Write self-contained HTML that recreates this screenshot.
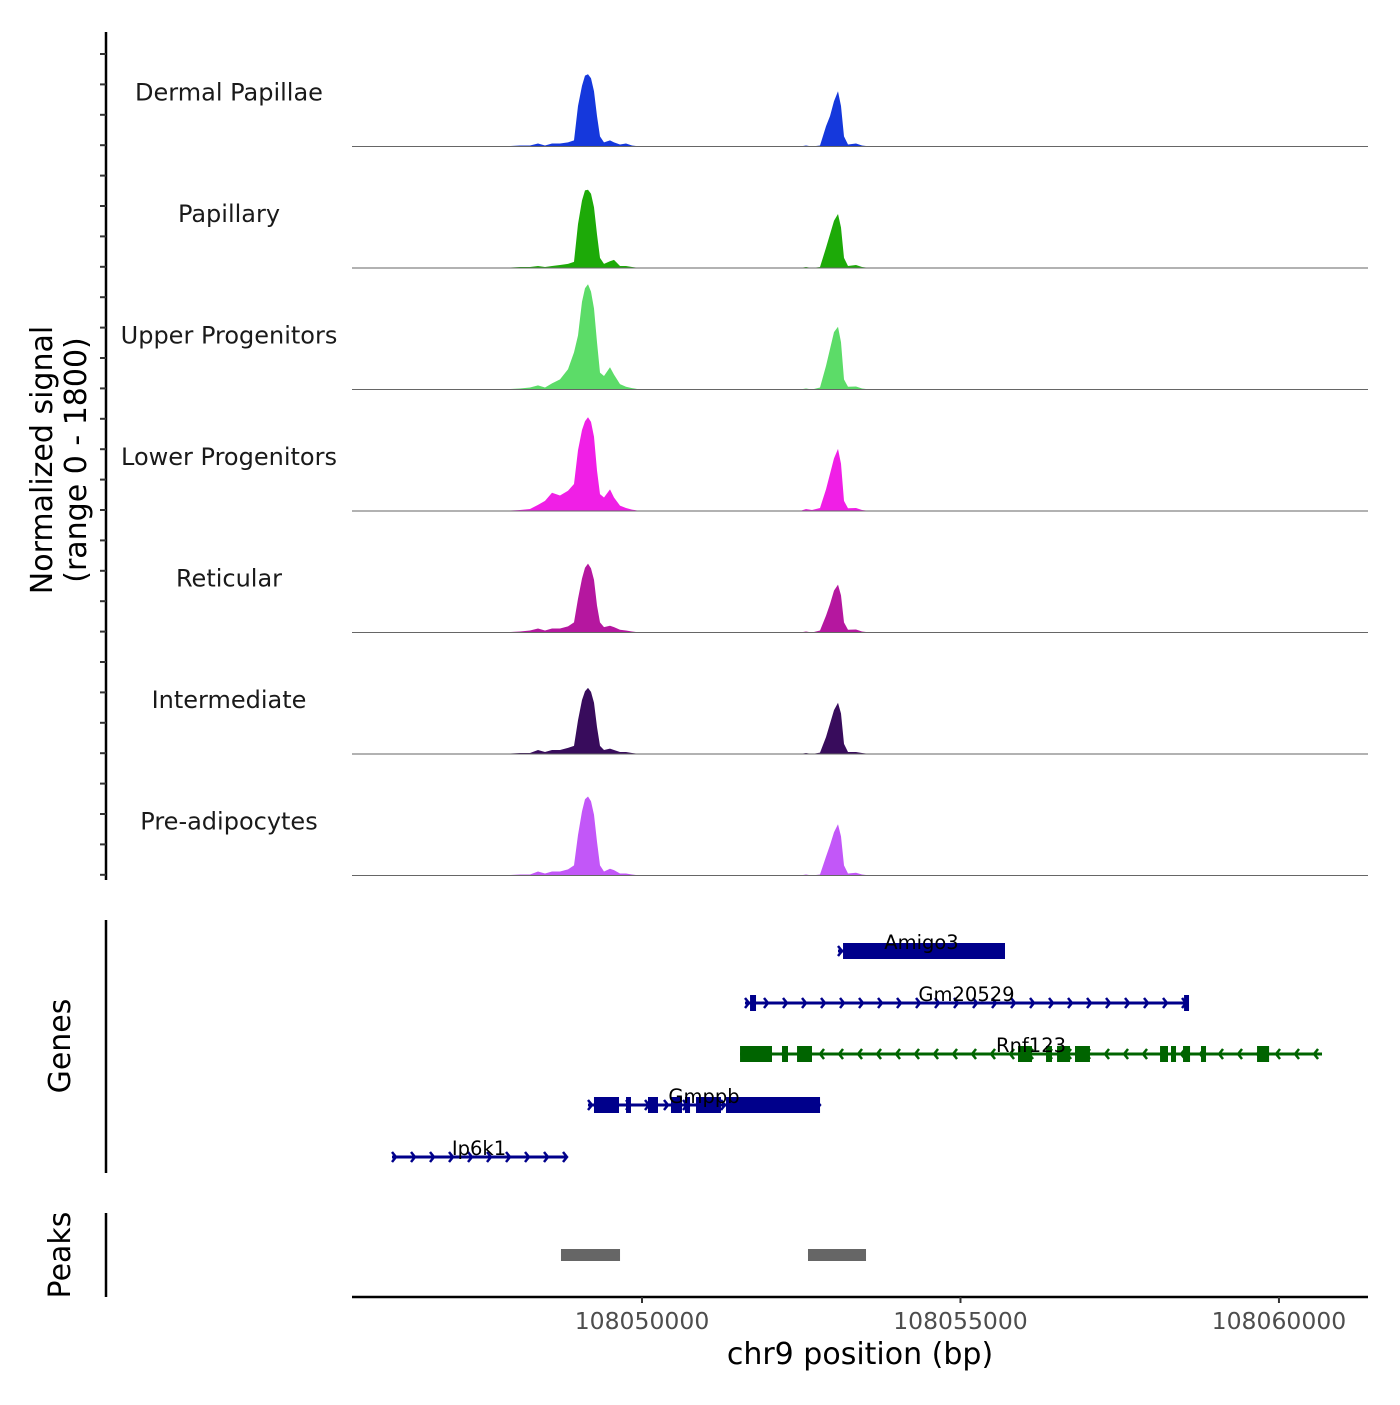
<!DOCTYPE html>
<html><head><meta charset="utf-8"><style>
body{margin:0;background:#fff}
svg text{font-family:"DejaVu Sans","Liberation Sans",sans-serif}
</style></head><body>
<svg id="chart" width="1400" height="1400" xmlns="http://www.w3.org/2000/svg">
<g id="tracks"></g>
<g id="genes"></g>
<g id="peaks"></g>
<g id="axes"></g>
</svg>
<script>
const positions=[108045447,108047771,108048085,108048242,108048367,108048477,108048587,108048713,108048838,108048932,108048995,108049058,108049105,108049152,108049199,108049246,108049294,108049341,108049403,108049498,108049560,108049655,108049749,108049843,108049969,108050911,108052481,108052575,108052669,108052795,108052889,108052952,108053014,108053077,108053124,108053171,108053234,108053360,108053454,108053580,108054051,108055621,108061398];
const cellTypes=["Dermal Papillae","Papillary","Upper Progenitors","Lower Progenitors","Reticular","Intermediate","Pre-adipocytes"];
const colors=["#1538dc","#1daa08","#5cdc68","#f01fe6","#b5179f","#380c5c","#c257f8"];
const sigDermal=[0,0,15,15,45,15,45,45,60,90,600,900,1050,1070,1010,820,450,150,60,90,60,30,45,15,0,0,0,15,0,15,300,450,670,820,600,150,30,45,15,0,0,0,0];
const sigPapillary=[0,0,15,15,30,15,30,45,60,90,650,1000,1150,1160,1100,900,500,150,60,100,120,30,30,15,0,0,0,15,0,15,300,500,700,800,600,150,30,45,15,0,0,0,0];
const sigUpper=[0,0,15,30,60,30,90,150,300,550,800,1300,1500,1560,1450,1200,700,250,200,330,220,80,40,20,0,0,0,15,0,30,350,600,850,930,700,150,40,45,15,0,0,0,0];
const sigLower=[0,0,15,30,90,150,270,230,300,400,900,1200,1330,1390,1320,1100,600,250,200,320,200,80,45,20,0,0,0,30,15,45,320,550,780,920,700,150,40,45,15,0,0,0,0];
const sigReticular=[0,0,15,30,60,30,60,60,90,150,500,800,960,1020,950,780,400,150,80,100,80,40,30,15,0,0,0,15,0,30,250,420,620,710,550,150,40,45,15,0,0,0,0];
const sigIntermediate=[0,0,15,15,60,30,60,60,90,120,500,800,930,980,920,760,400,120,60,80,60,30,30,15,0,0,0,15,0,20,250,450,650,760,600,150,30,30,15,0,0,0,0];
const sigPreadipo=[0,0,15,15,60,30,60,60,90,150,600,950,1130,1170,1100,900,500,150,60,100,80,30,30,15,0,0,0,15,0,15,280,450,640,760,580,150,30,40,15,0,0,0,0];
const signals=[sigDermal,sigPapillary,sigUpper,sigLower,sigReticular,sigIntermediate,sigPreadipo];
const xTicks=[108050000,108055000,108060000];
const xTickLabels=["108050000","108055000","108060000"];
const genes=[
 {name:"Amigo3",start:108053077,end:108055699,strand:1,exons:[[108053156,108055699]],color:"#00008b"},
 {name:"Gm20529",start:108051617,end:108058572,strand:1,exons:[[108051696,108051790],[108058510,108058588]],color:"#00008b"},
 {name:"Rnf123",start:108051539,end:108060676,strand:-1,exons:[[108051539,108052041],[108052198,108052292],[108052434,108052669],[108055903,108056123],[108056343,108056437],[108056516,108056720],[108056798,108057033],[108058133,108058258],[108058305,108058384],[108058494,108058604],[108058776,108058855],[108059656,108059845]],color:"#006400"},
 {name:"Gmppb",start:108049152,end:108052795,strand:1,exons:[[108049246,108049639],[108049749,108049827],[108050094,108050251],[108050455,108050628],[108050675,108050754],[108050848,108051240],[108051319,108052795]],color:"#00008b"},
 {name:"Ip6k1",start:108046075,end:108048807,strand:1,exons:[],color:"#00008b"}
];
const peakRegions=[[108048728,108049655],[108052606,108053517]];

const NS="http://www.w3.org/2000/svg";
const X0=352,X1=1368,D0=108045447,D1=108061398;
function x(bp){return X0+(bp-D0)/(D1-D0)*(X1-X0);}
const trackTop=25,trackH=121.5,maxSig=1800;
function mk(tag,attrs,parent){const e=document.createElementNS(NS,tag);for(const k in attrs)e.setAttribute(k,attrs[k]);parent.appendChild(e);return e;}
const T=document.getElementById('tracks');
signals.forEach((vals,i)=>{
  const base=trackTop+trackH*(i+1);
  const y=v=>base-v/maxSig*trackH;
  let d="M"+x(positions[0])+","+base;
  positions.forEach((p,j)=>{d+=" L"+x(p).toFixed(1)+","+y(vals[j]).toFixed(1);});
  d+=" L"+x(positions[positions.length-1])+","+base+" Z";
  const a=mk('path',{d:d,fill:colors[i]},T);
  
  
  const l=mk('line',{x1:X0,x2:X1,y1:base,y2:base,stroke:"#666",'stroke-width':1},T);
  
  
  const t=mk('text',{x:229,y:base-46,'text-anchor':'middle','font-size':24,fill:'#1a1a1a'},T);
  t.textContent=cellTypes[i];
  
  
});
const G=document.getElementById('genes');
const rowY=[951,1003,1054,1105,1157];
genes.forEach((g,i)=>{
  const yc=rowY[i];
  const ln=mk('line',{x1:x(g.start),x2:x(g.end),y1:yc,y2:yc,stroke:g.color,'stroke-width':3},G);
  
  
  const step=19;
  for(let px=x(g.start)+4;px<=x(g.end)+1;px+=step){
    const dx=g.strand>0?-4:4;
    const ar=mk('path',{d:`M${px+dx},${yc-5} L${px},${yc} L${px+dx},${yc+5}`,stroke:g.color,'stroke-width':2.5,fill:'none'},G);
    
    
  }
  g.exons.forEach(e=>{
    const r=mk('rect',{x:x(e[0]),y:yc-8,width:Math.max(3,x(e[1])-x(e[0])),height:16,fill:g.color},G);
    
    
  });
  const t=mk('text',{x:(x(g.start)+x(g.end))/2,y:yc-2,'text-anchor':'middle','font-size':19.5,fill:'#000'},G);
  t.textContent=g.name;
  
  
});
const P=document.getElementById('peaks');
peakRegions.forEach(p=>{
  const r=mk('rect',{x:x(p[0]),y:1249,width:x(p[1])-x(p[0]),height:12,fill:'#666'},P);
  
  
});
const A=document.getElementById('axes');
mk('line',{x1:106,x2:106,y1:32,y2:880,stroke:'#000','stroke-width':2.5},A);
for(let k=0;k<28;k++){const yy=54+k*30.4;mk('line',{x1:100,x2:106,y1:yy,y2:yy,stroke:'#333','stroke-width':2},A);}
mk('line',{x1:106,x2:106,y1:920,y2:1173,stroke:'#000','stroke-width':2.5},A);
mk('line',{x1:106,x2:106,y1:1213,y2:1297,stroke:'#000','stroke-width':2.5},A);
mk('line',{x1:352,x2:1368,y1:1297,y2:1297,stroke:'#000','stroke-width':2.5},A);
xTicks.forEach((v,i)=>{
  mk('line',{x1:x(v),x2:x(v),y1:1297,y2:1303,stroke:'#333','stroke-width':2},A);
  const t=mk('text',{x:x(v),y:1329,'text-anchor':'middle','font-size':23.5,fill:'#4d4d4d'},A);
  t.textContent=xTickLabels[i];
  
  
});
const xt=mk('text',{x:860,y:1364,'text-anchor':'middle','font-size':30,fill:'#000'},A);
xt.textContent="chr9 position (bp)";


const yt=mk('text',{transform:'translate(52,460) rotate(-90)','text-anchor':'middle','font-size':30,fill:'#000'},A);
yt.textContent="Normalized signal";


const yt2=mk('text',{transform:'translate(86,460) rotate(-90)','text-anchor':'middle','font-size':30,fill:'#000'},A);
yt2.textContent="(range 0 - 1800)";


const gt=mk('text',{transform:'translate(70,1046) rotate(-90)','text-anchor':'middle','font-size':30,fill:'#000'},A);
gt.textContent="Genes";


const pt=mk('text',{transform:'translate(70,1255) rotate(-90)','text-anchor':'middle','font-size':30,fill:'#000'},A);
pt.textContent="Peaks";


</script>
</body></html>
